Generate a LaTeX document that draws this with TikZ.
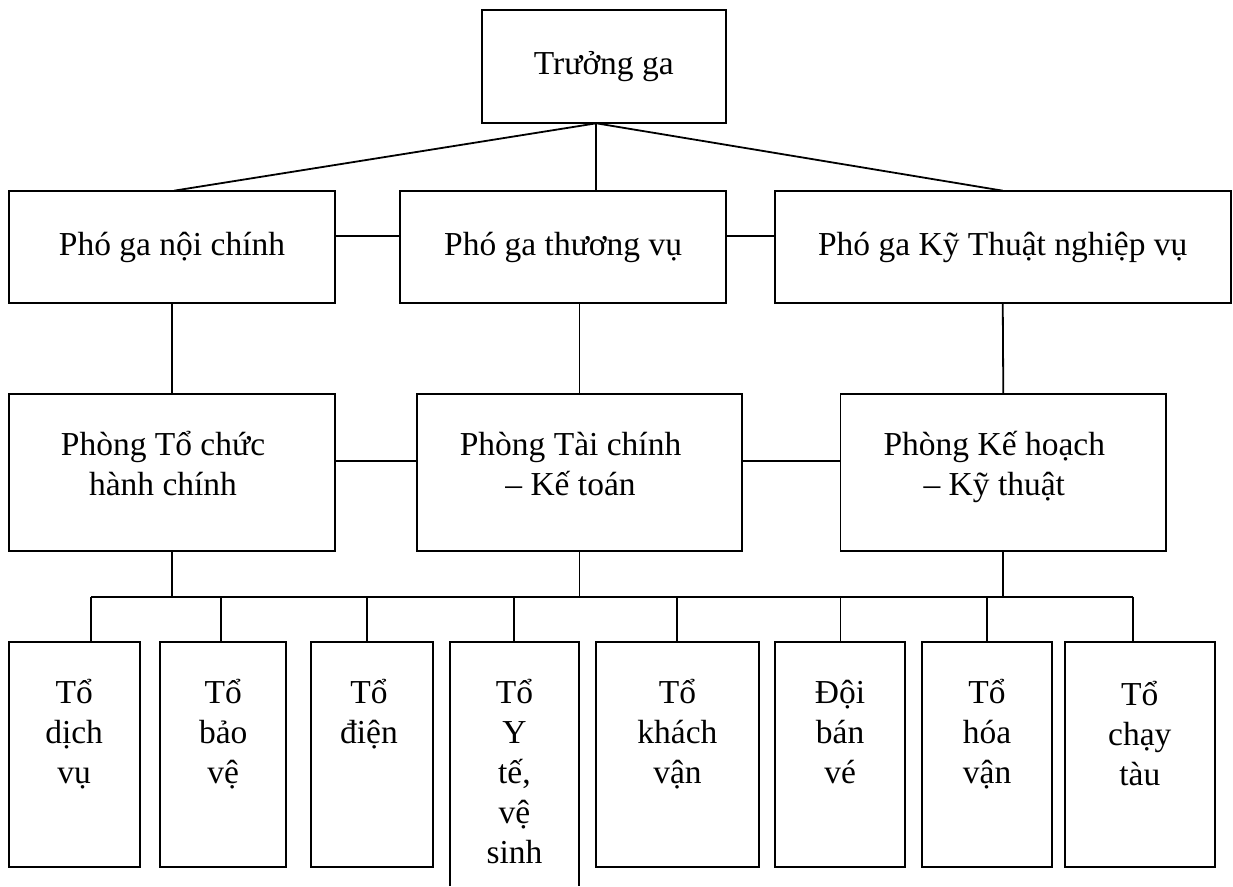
\documentclass[tikz,border=0pt]{standalone}
\usepackage{fontspec}
\setmainfont{Liberation Serif}
\newcommand{\mystack}[2]{\vtop{\baselineskip=#1\lineskiplimit=-100pt\lineskip=0pt\halign{\hfil##\hfil\cr#2\crcr}}}
\begin{document}
\begin{tikzpicture}[x=1pt,y=-1pt,line width=1.8pt,
  box/.style 2 args={draw,inner sep=0pt,outer sep=0pt,minimum width=#1,minimum height=#2},
  openbox/.style 2 args={inner sep=0pt,outer sep=0pt,minimum width=#1,minimum height=#2},
  lbl/.style={inner sep=0pt,anchor=base,font=\fontsize{33.5}{40}\selectfont}]
\useasboundingbox (0,0) rectangle (1233,886);

% top
\node[box={244.4pt}{113.3pt}] (tg) at (603.8,66.65) {};
\node[lbl] (tgt) at (603.8,74) {Trưởng ga};

% row 2
\node[box={326.6pt}{112.6pt}] (pg1) at (172,247) {};
\node[box={325.8pt}{112.6pt}] (pg2) at (563.1,247) {};
\node[box={455.7pt}{112.6pt}] (pg3) at (1002.75,247) {};
\node[lbl] (pg1t) at (172,255) {Phó ga nội chính};
\node[lbl] (pg2t) at (563.1,255) {Phó ga thương vụ};
\node[lbl] (pg3t) at (1002.75,255) {Phó ga Kỹ Thuật nghiệp vụ};

% row 3
\node[box={326.6pt}{156.7pt}] (ptc) at (172,472.35) {};
\node[box={325.5pt}{156.7pt}] (ptk) at (579.55,472.35) {};
\node[box={325.8pt}{156.7pt}] (pkh) at (1003.3,472.35) {};
\node[lbl] (ptct) at (163,455) {\mystack{40pt}{Phòng Tổ chức\cr hành chính}};
\node[lbl] (ptkt) at (570.5,455) {\mystack{40pt}{Phòng Tài chính\cr – Kế toán}};
\node[lbl] (pkht) at (994.3,455) {\mystack{40pt}{Phòng Kế hoạch\cr – Kỹ thuật}};

% row 4
\node[box={130.9pt}{225.6pt}] (b1) at (74.15,754.5) {};
\node[box={126.2pt}{225.6pt}] (b2) at (223.2,754.5) {};
\node[box={121.8pt}{225.6pt}] (b3) at (372.1,754.5) {};
\node[openbox={129.7pt}{244.3pt}] (b4) at (514.45,763.85) {};
\draw (b4.south west) -- (b4.north west) -- (b4.north east) -- (b4.south east);
\node[box={163.1pt}{225.6pt}] (b5) at (677.45,754.5) {};
\node[box={130.3pt}{225.6pt}] (b6) at (840.05,754.5) {};
\node[box={130.3pt}{225.6pt}] (b7) at (987.05,754.5) {};
\node[box={149.8pt}{225.6pt}] (b8) at (1139.8,754.5) {};
\node[lbl] (b1t) at (74.15,703) {\mystack{40pt}{Tổ\cr dịch\cr vụ}};
\node[lbl] (b2t) at (223.2,703) {\mystack{40pt}{Tổ\cr bảo\cr vệ}};
\node[lbl] (b3t) at (369,703) {\mystack{40pt}{Tổ\cr điện}};
\node[lbl] (b4t) at (514.45,703) {\mystack{40pt}{Tổ\cr Y\cr tế,\cr vệ\cr sinh}};
\node[lbl] (b5t) at (677.45,703) {\mystack{40pt}{Tổ\cr khách\cr vận}};
\node[lbl] (b6t) at (840.05,703) {\mystack{40pt}{Đội\cr bán\cr vé}};
\node[lbl] (b7t) at (987.05,703) {\mystack{40pt}{Tổ\cr hóa\cr vận}};
\node[lbl] (b8t) at (1139.8,705) {\mystack{40pt}{Tổ\cr chạy\cr tàu}};

% connectors top -> row 2
\coordinate (tgfoot) at ([xshift=-7.5pt]tg.south);
\draw (tgfoot) -- ([xshift=2pt]pg1.north);
\draw (tgfoot) -- (tgfoot |- pg2.north);
\draw (tgfoot) -- (pg3.north);
\draw ([yshift=11pt]pg1.east) -- ([yshift=11pt]pg2.west);
\draw ([yshift=11pt]pg2.east) -- ([yshift=11pt]pg3.west);

% row 2 -> row 3
\draw (pg1.south) -- (ptc.north);
\draw (ptk.north |- pg2.south) -- (ptk.north);
\draw (pg3.south) -- (pkh.north);
\draw ([yshift=11.35pt]ptc.east) -- ([yshift=11.35pt]ptk.west);
\draw ([yshift=11.35pt]ptk.east) -- ([yshift=11.35pt]pkh.west);

% bus
\coordinate (d1) at (91.3,596.7);
\coordinate (d2) at (220.6,596.7);
\coordinate (d3) at (367,596.7);
\coordinate (d4) at (514,596.7);
\coordinate (d5) at (676.7,596.7);
\coordinate (d6) at (840.4,596.7);
\coordinate (d7) at (986.6,596.7);
\coordinate (d8) at (1133.2,596.7);
\draw (d1) -- (d8);
\draw (ptc.south) -- (ptc.south |- d1);
\draw (ptk.south) -- (ptk.south |- d1);
\draw (pkh.south) -- (pkh.south |- d1);
\draw (d1) -- (d1 |- b1.north);
\draw (d2) -- (d2 |- b2.north);
\draw (d3) -- (d3 |- b3.north);
\draw (d4) -- (d4 |- b4.north);
\draw (d5) -- (d5 |- b5.north);
\draw (d6) -- (d6 |- b6.north);
\draw (d7) -- (d7 |- b7.north);
\draw (d8) -- (d8 |- b8.north);
\end{tikzpicture}
\end{document}
